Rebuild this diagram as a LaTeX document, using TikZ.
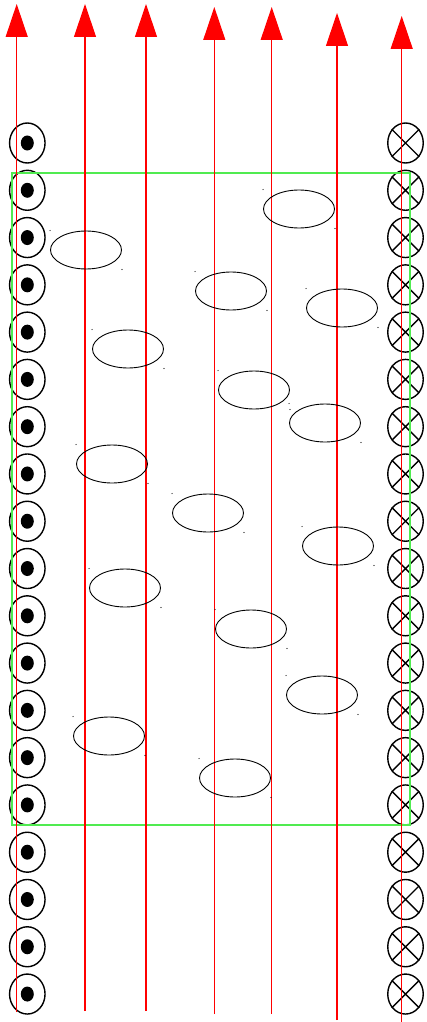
\documentclass[tikz,border=0pt]{standalone}
\usetikzlibrary{arrows.meta,shapes.geometric}
\definecolor{framegreen}{RGB}{80,235,80}
\begin{document}
\begin{tikzpicture}[x=1pt,y=-1pt,
  wire/.style={ellipse,draw,line width=1.4pt,minimum width=35.5pt,
    minimum height=40pt,inner sep=0pt},
  fieldline/.style={draw=red,line width=1.2pt,
    -{Triangle[width=22pt,length=33pt]}},
  magdomain/.style={ellipse,draw,line width=0.9pt,minimum width=71pt,
    minimum height=38pt,inner sep=0pt},
  sampleframe/.style={draw=framegreen,line width=1.3pt},
  ]
  \useasboundingbox (0,0) rectangle (427,1022);
  % wires: out of the page (left), into the page (right)
  \foreach \i in {1,...,19}{
    \pgfmathsetmacro{\yy}{143+47.28*(\i-1)}
    \node[wire] (l\i) at (27.3,\yy) {};
    \fill (l\i.center) ellipse (6.5pt and 7.5pt);
    \node[wire] (r\i) at (405.5,\yy) {};
    \draw[line width=1.4pt] (r\i.45) -- (r\i.225) (r\i.135) -- (r\i.-45);
  }
  % sample region
  \coordinate (fa) at (12,173);
  \coordinate (fb) at (410,825);
  \draw[sampleframe] (fa) rectangle (fb);
  % field lines
  \foreach \n/\x/\yt/\yb in {1/16.7/4/1012, 2/85/4/1011, 3/146/4/1011,
      4/214.3/7/1014, 5/271.7/7/1014, 6/337/13/1020, 7/401.7/16/1022}{
    \coordinate (b\n) at (\x,\yb);
    \coordinate (t\n) at (\x,\yt);
    \draw[fieldline] (b\n) -- (t\n);
  }
  % domains
  \foreach \n/\x/\y in {1/299/209, 2/86/250, 3/231/291, 4/342/308,
      5/128/349, 6/254/390, 7/325/423, 8/112/464, 9/208/513, 10/338/546,
      11/125/588, 12/251/629, 13/322/695, 14/109/736, 15/235/778}{
    \node[magdomain] (e\n) at (\x,\y) {};
    \fill (e\n.west |- e\n.north) circle (0.6pt);
    \fill (e\n.east |- e\n.south) circle (0.6pt);
  }
\end{tikzpicture}
\end{document}
